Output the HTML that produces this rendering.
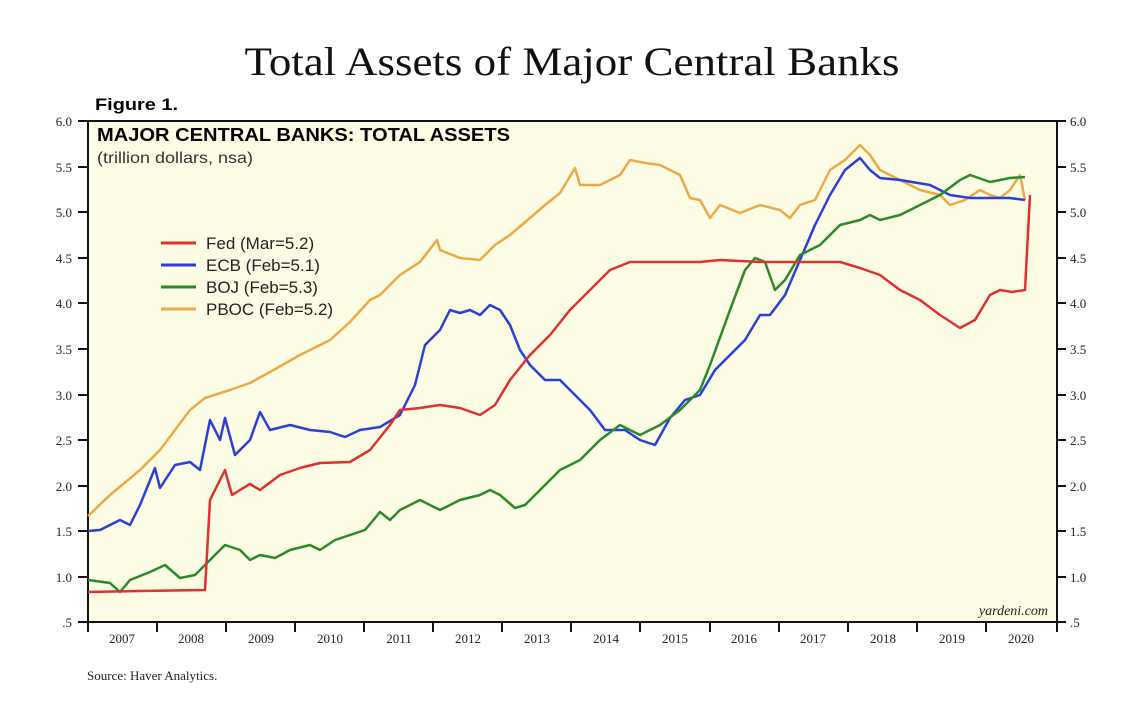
<!DOCTYPE html><html><head><style>body{margin:0;background:#fff}svg{display:block}</style></head><body>
<svg width="1122" height="715" xmlns="http://www.w3.org/2000/svg" font-family="Liberation Serif, serif">
<rect width="1122" height="715" fill="#fff"/>
<text x="572" y="75" font-size="40" text-anchor="middle" fill="#111" textLength="655" lengthAdjust="spacingAndGlyphs">Total Assets of Major Central Banks</text>
<text x="95" y="110" font-family="Liberation Sans, sans-serif" font-weight="bold" font-size="17" textLength="83" lengthAdjust="spacingAndGlyphs">Figure 1.</text>
<rect x="88" y="121" width="969" height="501" fill="#fdfce5" stroke="#111" stroke-width="2"/>
<g font-size="13" fill="#222">
<g text-anchor="end">
<text x="72" y="126">6.0</text><text x="72" y="172">5.5</text><text x="72" y="217">5.0</text><text x="72" y="263">4.5</text><text x="72" y="308">4.0</text><text x="72" y="354">3.5</text><text x="72" y="400">3.0</text><text x="72" y="445">2.5</text><text x="72" y="491">2.0</text><text x="72" y="536">1.5</text><text x="72" y="582">1.0</text><text x="72" y="627">.5</text></g>
<g>
<text x="1070" y="126">6.0</text><text x="1070" y="172">5.5</text><text x="1070" y="217">5.0</text><text x="1070" y="263">4.5</text><text x="1070" y="308">4.0</text><text x="1070" y="354">3.5</text><text x="1070" y="400">3.0</text><text x="1070" y="445">2.5</text><text x="1070" y="491">2.0</text><text x="1070" y="536">1.5</text><text x="1070" y="582">1.0</text><text x="1070" y="627">.5</text></g>
<g text-anchor="middle">
<text x="122" y="643">2007</text><text x="191" y="643">2008</text><text x="261" y="643">2009</text><text x="330" y="643">2010</text><text x="399" y="643">2011</text><text x="468" y="643">2012</text><text x="537" y="643">2013</text><text x="606" y="643">2014</text><text x="675" y="643">2015</text><text x="744" y="643">2016</text><text x="813" y="643">2017</text><text x="883" y="643">2018</text><text x="952" y="643">2019</text><text x="1021" y="643">2020</text></g>
</g>
<g stroke="#111" stroke-width="2">
<path d="M78 121H88M78 167H88M78 212H88M78 258H88M78 303H88M78 349H88M78 395H88M78 440H88M78 486H88M78 531H88M78 577H88M78 622H88"/>
<path d="M1057 121H1066M1057 167H1066M1057 212H1066M1057 258H1066M1057 303H1066M1057 349H1066M1057 395H1066M1057 440H1066M1057 486H1066M1057 531H1066M1057 577H1066M1057 622H1066"/>
<path d="M88 622V632M157 622V632M226 622V632M295 622V632M364 622V632M433 622V632M502 622V632M571 622V632M640 622V632M710 622V632M779 622V632M848 622V632M917 622V632M986 622V632M1057 622V632"/>
</g>
<text x="97" y="141" font-family="Liberation Sans, sans-serif" font-weight="bold" font-size="18" textLength="413" lengthAdjust="spacingAndGlyphs">MAJOR CENTRAL BANKS: TOTAL ASSETS</text>
<text x="97" y="163" font-family="Liberation Sans, sans-serif" font-size="16" fill="#333" textLength="156" lengthAdjust="spacingAndGlyphs">(trillion dollars, nsa)</text>
<g font-family="Liberation Sans, sans-serif" font-size="17" fill="#222" stroke-width="3">
<line x1="161" y1="243" x2="196" y2="243" stroke="#e03030"/><text x="206" y="249">Fed (Mar=5.2)</text>
<line x1="161" y1="265" x2="196" y2="265" stroke="#2a3fd8"/><text x="206" y="271">ECB (Feb=5.1)</text>
<line x1="161" y1="287" x2="196" y2="287" stroke="#2a8a2a"/><text x="206" y="293">BOJ (Feb=5.3)</text>
<line x1="161" y1="309" x2="196" y2="309" stroke="#f0a844"/><text x="206" y="315">PBOC (Feb=5.2)</text>
</g>
<g fill="none" stroke-width="2.5" stroke-linejoin="round">
<polyline stroke="#f0a844" points="88,516 110,495 140,470 160,450 190,410 205,398 230,390 250,383 270,372 300,355 330,340 350,322 370,300 380,295 400,275 420,262 437,240 440,250 460,258 480,260 495,245 510,235 530,218 545,205 560,193 575,168 580,185 600,185 620,175 630,160 645,163 660,165 680,175 690,198 700,200 710,218 720,205 740,213 760,205 780,210 790,218 800,205 815,200 830,170 845,160 860,145 870,155 880,170 900,180 920,190 940,195 950,205 965,200 980,190 990,195 1000,198 1010,190 1020,175 1025,200"/>
<polyline stroke="#2a3fd8" points="88,531 100,530 120,520 130,525 140,505 155,468 160,488 175,465 190,462 200,470 210,420 220,440 225,418 235,455 250,440 260,412 270,430 290,425 310,430 330,432 345,437 360,430 380,427 400,415 415,385 425,345 440,330 450,310 460,313 470,310 480,315 490,305 500,310 510,325 520,350 530,365 545,380 560,380 575,395 590,410 605,430 625,430 640,440 655,445 670,418 685,400 700,395 715,370 730,355 745,340 760,315 770,315 785,295 800,260 815,225 830,195 845,170 860,158 870,170 880,178 900,180 930,185 950,195 970,198 990,198 1010,198 1025,200"/>
<polyline stroke="#2a8a2a" points="88,580 110,583 120,592 130,580 150,572 165,565 180,578 195,575 210,560 225,545 240,550 250,560 260,555 275,558 290,550 310,545 320,550 335,540 350,535 365,530 380,512 390,520 400,510 420,500 440,510 460,500 480,495 490,490 500,495 515,508 525,505 540,490 560,470 580,460 600,440 620,425 640,435 660,425 680,410 700,390 710,365 730,310 745,270 755,258 765,262 775,290 785,280 800,255 820,245 840,225 860,220 870,215 880,220 900,215 920,205 940,195 960,180 970,175 990,182 1010,178 1025,177"/>
<polyline stroke="#e03030" points="88,592 140,591 205,590 210,500 225,470 232,495 240,490 250,484 260,490 280,475 300,468 320,463 350,462 370,450 390,425 400,410 420,408 440,405 460,408 480,415 495,405 510,380 530,355 550,335 570,310 590,290 610,270 630,262 660,262 700,262 720,260 760,262 800,262 840,262 860,268 880,275 900,290 920,300 940,315 960,328 975,320 990,295 1000,290 1012,292 1025,290 1030,195"/>
</g>
<text x="1048" y="615" font-size="14" font-style="italic" text-anchor="end" fill="#222">yardeni.com</text>
<text x="87" y="680" font-size="13" fill="#222">Source: Haver Analytics.</text>
</svg>
</body></html>
